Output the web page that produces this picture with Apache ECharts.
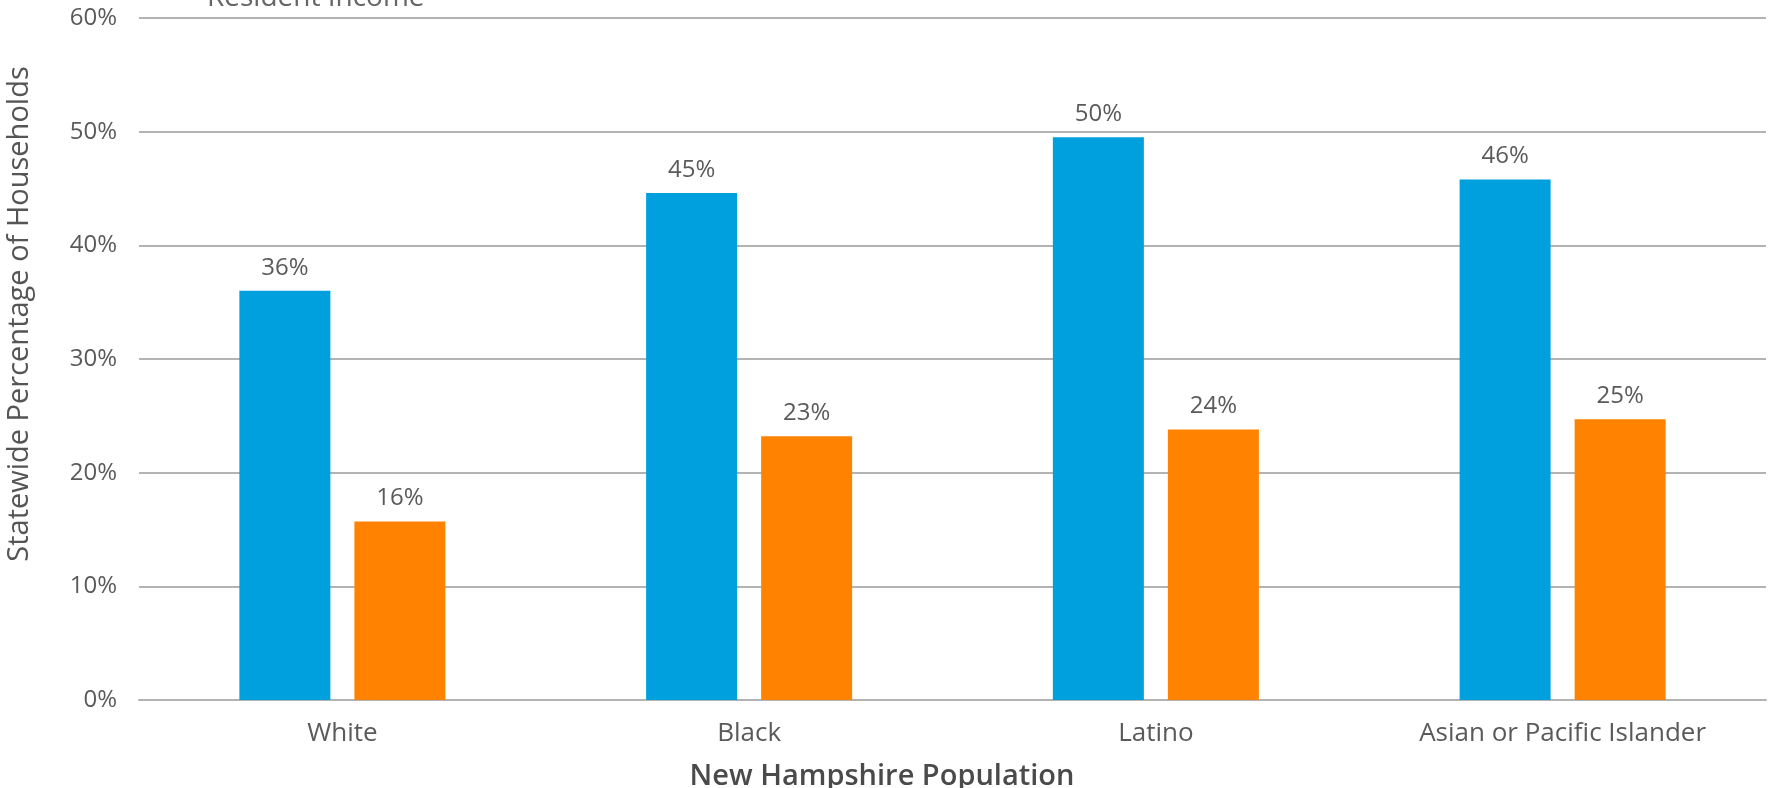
<!DOCTYPE html>
<html>
<head>
<meta charset="utf-8">
<script src="https://cdn.jsdelivr.net/npm/echarts@6/dist/echarts.min.js"></script>
<style>
  html, body { margin: 0; padding: 0; background: #fff; }
  #chart { width: 1768px; height: 788px; }
</style>
</head>
<body>
<div id="chart"></div>
<script>
// Household shares by population group (percent of households statewide)
const categories = ['White', 'Black', 'Latino', 'Asian or Pacific Islander'];
const blueSeries = [36.0, 44.6, 49.5, 45.8];
const orangeSeries = [15.7, 23.2, 23.8, 24.7];
const yTicks = [0, 10, 20, 30, 40, 50, 60];

const textColor = '#5a5a5a';
const baseFont = 'Open Sans';

const chart = echarts.init(document.getElementById('chart'), null, { renderer: 'canvas' });

const labelStyle = {
  show: true,
  position: 'top',
  distance: 11,
  color: textColor,
  fontFamily: baseFont,
  fontSize: 24,
  formatter: p => Math.round(p.value) + '%'
};

chart.setOption({
  animation: false,
  backgroundColor: '#ffffff',
  grid: { left: 139, right: 2, top: 18, bottom: 88, containLabel: false },
  xAxis: {
    type: 'category',
    data: categories,
    axisLine: { show: true, lineStyle: { color: '#b3b3b3', width: 2 } },
    axisTick: { show: false },
    axisLabel: { color: textColor, fontFamily: baseFont, fontSize: 26, margin: 21 }
  },
  yAxis: {
    type: 'value',
    min: yTicks[0],
    max: yTicks[yTicks.length - 1],
    interval: 10,
    axisLine: { show: false },
    axisTick: { show: false },
    axisLabel: { color: textColor, fontFamily: baseFont, fontSize: 24, margin: 22, formatter: v => v + '%' },
    splitLine: { lineStyle: { color: '#b3b3b3', width: 2 } }
  },
  series: [
    {
      name: 'Blue',
      type: 'bar',
      data: blueSeries,
      barWidth: 91,
      barGap: '26.4%',
      itemStyle: { color: '#00a0df' },
      label: labelStyle
    },
    {
      name: 'Orange',
      type: 'bar',
      data: orangeSeries,
      barWidth: 91,
      barGap: '26.4%',
      itemStyle: { color: '#ff8300' },
      label: labelStyle
    }
  ],
  graphic: [
    {
      type: 'text',
      x: 207,
      y: 12,
      style: {
        text: 'Resident Income',
        fill: '#666666',
        fontFamily: baseFont,
        fontSize: 28,
        verticalAlign: 'bottom'
      }
    },
    {
      type: 'text',
      x: 20,
      y: 314,
      rotation: Math.PI / 2,
      style: {
        text: 'Statewide Percentage of Households',
        fill: '#555555',
        fontFamily: baseFont,
        fontSize: 29,
        align: 'center',
        verticalAlign: 'middle'
      }
    },
    {
      type: 'text',
      x: 882,
      y: 777,
      style: {
        text: 'New Hampshire Population',
        fill: '#4a4a4a',
        fontFamily: baseFont,
        fontWeight: 600,
        fontSize: 29,
        align: 'center',
        verticalAlign: 'middle'
      }
    }
  ]
});
</script>
</body>
</html>
